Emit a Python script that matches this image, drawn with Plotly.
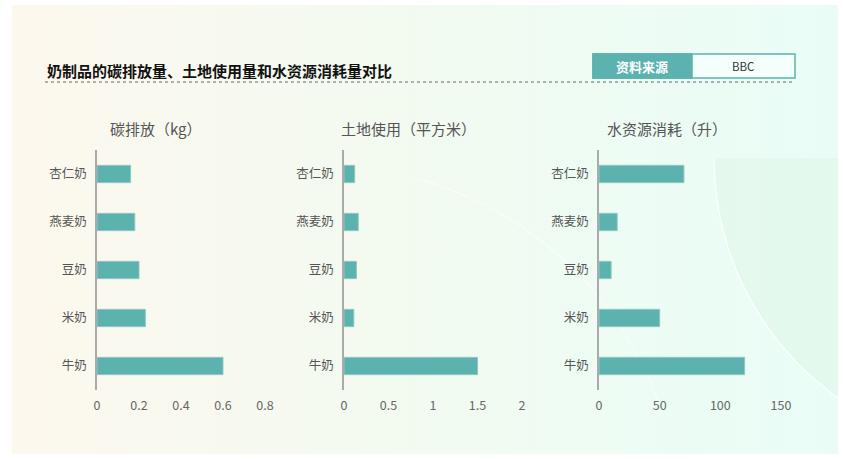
import numpy as np
import plotly.graph_objects as go

W, H = 843, 459

categories = ["杏仁奶", "燕麦奶", "豆奶", "米奶", "牛奶"]
carbon_kg = [0.16, 0.18, 0.20, 0.23, 0.60]
land_m2 = [0.12, 0.16, 0.14, 0.11, 1.50]
water_l = [70, 15, 10, 50, 120]

panel_titles = ["碳排放（kg）", "土地使用（平方米）", "水资源消耗（升）"]
x_ticks = [[0, 0.2, 0.4, 0.6, 0.8], [0, 0.5, 1, 1.5, 2], [0, 50, 100, 150]]
x_ticklabels = [["0", "0.2", "0.4", "0.6", "0.8"], ["0", "0.5", "1", "1.5", "2"], ["0", "50", "100", "150"]]
x_ranges = [[0, 0.8], [0, 2], [0, 150]]

title_text = "奶制品的碳排放量、土地使用量和水资源消耗量对比"
source_label = "资料来源"
source_value = "BBC"

FONT = "Noto Sans CJK SC"
TEAL = "#5BB2AE"

fig = go.Figure()

# ---- background subplot (pixel coordinates) ----
card = dict(x0=12, x1=838, y0=5, y1=454)
fig.add_trace(go.Scatter(
    x=[card["x0"], card["x1"], card["x1"], card["x0"], card["x0"]],
    y=[card["y0"], card["y0"], card["y1"], card["y1"], card["y0"]],
    mode="lines", line=dict(width=0), fill="toself",
    fillgradient=dict(type="horizontal",
                      colorscale=[[0, "#FDF8EE"], [0.45, "#F3FAF0"], [0.75, "#EDFCF4"], [1, "#E9FDF6"]]),
    hoverinfo="skip", showlegend=False, xaxis="x", yaxis="y"))

# subtle quarter-disc decoration at right
cx, cy, r = 1008, 158, 294
ys = np.linspace(158, 454, 80)
xs = cx - np.sqrt(np.clip(r**2 - (ys - cy)**2, 0, None))
xs = np.clip(xs, 714, 838)
px = np.concatenate([[838], xs, [838]])
py = np.concatenate([[158], ys, [454]])
fig.add_trace(go.Scatter(x=px, y=py, mode="lines", line=dict(width=0), fill="toself",
                         fillcolor="rgba(220,242,226,0.4)", hoverinfo="skip",
                         showlegend=False, xaxis="x", yaxis="y"))
keep = xs < 838
fig.add_trace(go.Scatter(x=xs[keep], y=ys[keep], mode="lines",
                         line=dict(color="rgba(255,255,255,0.9)", width=1.2),
                         hoverinfo="skip", showlegend=False, xaxis="x", yaxis="y"))
# faint arc crossing panel 3 (decorative)
cx2, cy2, r2 = 450, 520, 360
ang = np.linspace(np.radians(20), np.radians(75), 60)
fig.add_trace(go.Scatter(x=cx2 + r2 * np.cos(ang) - 130, y=cy2 - r2 * np.sin(ang) + 5,
                         mode="lines", line=dict(color="rgba(255,255,255,0.6)", width=1.2),
                         hoverinfo="skip", showlegend=False, xaxis="x", yaxis="y"))

shapes = [
    dict(type="line", xref="x", yref="y", x0=540, x1=838, y0=158, y1=158,
         line=dict(color="rgba(255,255,255,0.9)", width=1.2), layer="below"),
    dict(type="line", xref="x", yref="y", x0=714, x1=714, y0=5, y1=454,
         line=dict(color="rgba(255,255,255,0.9)", width=1.2), layer="below"),
    dict(type="line", xref="x", yref="y", x0=45, x1=795, y0=82, y1=82,
         line=dict(color="#666666", width=1, dash="dot")),
    dict(type="rect", xref="x", yref="y", x0=593, x1=795, y0=54, y1=78,
         fillcolor="#F4FEFB", line=dict(color=TEAL, width=1.5)),
    dict(type="rect", xref="x", yref="y", x0=593, x1=692, y0=54, y1=78,
         fillcolor=TEAL, line=dict(color=TEAL, width=1.5)),
]

annotations = [
    dict(xref="x", yref="y", x=45, y=70, text=f"<b>{title_text}</b>", showarrow=False,
         xanchor="left", yanchor="middle", font=dict(family=FONT, size=15, color="#111111")),
    dict(xref="x", yref="y", x=642, y=66, text=f"<b>{source_label}</b>", showarrow=False,
         xanchor="center", yanchor="middle", font=dict(family=FONT, size=13, color="white")),
    dict(xref="x", yref="y", x=743, y=66, text=source_value, showarrow=False,
         xanchor="center", yanchor="middle", font=dict(family=FONT, size=11.5, color="#333333")),
]

# ---- bar panels ----
series = [carbon_kg, land_m2, water_l]
x_px = [(97, 265), (344, 522), (599, 781)]
title_cx = [156, 408, 667]
y_top, y_bot = 150, 390

layout_axes = {}
for i, vals in enumerate(series):
    n = i + 2
    fig.add_trace(go.Bar(
        x=vals, y=categories, orientation="h", width=0.36,
        marker=dict(color=TEAL, line=dict(color="#8FC7C3", width=1)),
        xaxis=f"x{n}", yaxis=f"y{n}", showlegend=False,
        hovertemplate="%{y}: %{x}<extra></extra>"))
    layout_axes[f"xaxis{n}"] = dict(
        domain=[x_px[i][0] / W, x_px[i][1] / W], range=x_ranges[i], anchor=f"y{n}",
        tickvals=x_ticks[i], ticktext=x_ticklabels[i], showgrid=False, zeroline=False,
        showline=False, ticks="outside", ticklen=4, tickcolor="rgba(0,0,0,0)",
        tickfont=dict(family=FONT, size=12.5, color="#666666"),
        automargin=False, fixedrange=True)
    layout_axes[f"yaxis{n}"] = dict(
        domain=[1 - y_bot / H, 1 - y_top / H], anchor=f"x{n}", type="category",
        categoryorder="array", categoryarray=categories, autorange="reversed",
        showgrid=False, zeroline=False, showline=True, linecolor="#AAAAAA", linewidth=1.5,
        ticks="outside", ticklen=6, tickcolor="rgba(0,0,0,0)",
        tickfont=dict(family=FONT, size=12.5, color="#555555"),
        automargin=False, fixedrange=True)
    annotations.append(dict(xref="x", yref="y", x=title_cx[i], y=128, text=panel_titles[i],
                            showarrow=False, xanchor="center", yanchor="middle",
                            font=dict(family=FONT, size=15, color="#555555")))

fig.update_layout(
    width=W, height=H, margin=dict(l=0, r=0, t=0, b=0, autoexpand=False),
    paper_bgcolor="white", plot_bgcolor="rgba(0,0,0,0)",
    font=dict(family=FONT),
    xaxis=dict(domain=[0, 1], range=[0, W], visible=False, fixedrange=True, automargin=False),
    yaxis=dict(domain=[0, 1], range=[H, 0], visible=False, fixedrange=True, automargin=False),
    shapes=shapes, annotations=annotations, showlegend=False,
    **layout_axes)

fig.write_html(
    "out.html",
    config={"displayModeBar": False},
    post_script="document.body.style.margin='0';document.body.style.padding='0';"
                "document.documentElement.style.overflow='hidden';",
)
